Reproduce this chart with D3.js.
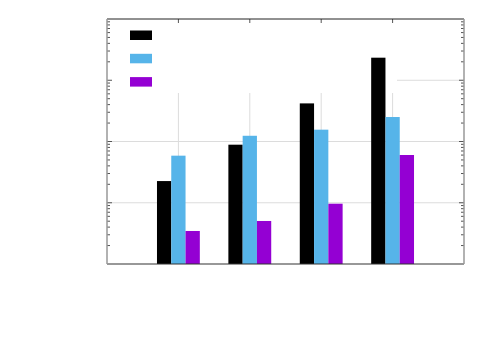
<!DOCTYPE html>
<html>
<head>
<meta charset="utf-8">
<script src="https://cdn.jsdelivr.net/npm/d3@7"></script>
<style>
  body { margin: 0; background: #fff; }
</style>
</head>
<body>
<div id="chart"></div>
<script>
// data (log scale, no labels shown)
const categories = [1, 2, 3, 4];
const seriesNames = ['', '', ''];
const seriesColors = ['#000000', '#56b4e9', '#9400d3'];
const series1 = [22.6, 88.7, 419, 2335];
const series2 = [58.7, 124, 156, 251];
const series3 = [3.46, 5.04, 9.65, 60.2];
const allSeries = [series1, series2, series3];

const margin = { top: 19, right: 36, bottom: 86, left: 107 };
const width = 500 - margin.left - margin.right;
const height = 350 - margin.top - margin.bottom;

const svg = d3.select('#chart')
  .append('svg')
  .attr('width', 500)
  .attr('height', 350)
  .append('g')
  .attr('transform', `translate(${margin.left}, ${margin.top})`);

const x = d3.scaleLinear().domain([0, 5]).range([0, width]);
const y = d3.scaleLog().domain([1, 10000]).range([height, 0]);
const barW = x(0.2) - x(0);

const majors = [10, 100, 1000];
const minors = [];
for (let d = 1; d < 10000; d *= 10) {
  for (let k = 2; k <= 9; k++) minors.push(d * k);
}

// grid
svg.append('g')
  .selectAll('line.h')
  .data(majors)
  .enter()
  .append('line')
  .attr('x1', 0).attr('x2', width)
  .attr('y1', d => y(d)).attr('y2', d => y(d))
  .attr('stroke', '#dcdcdc');
svg.append('g')
  .selectAll('line.v')
  .data(categories)
  .enter()
  .append('line')
  .attr('x1', d => x(d)).attr('x2', d => x(d))
  .attr('y1', 0).attr('y2', height)
  .attr('stroke', '#dcdcdc');

// legend background (covers grid)
const legendW = 290;
const legendH = 74;
svg.append('rect')
  .attr('x', 0).attr('y', 0)
  .attr('width', legendW).attr('height', legendH)
  .attr('fill', '#fff');

// bars
allSeries.forEach((vals, i) => {
  svg.append('g')
    .selectAll('rect')
    .data(vals)
    .enter()
    .append('rect')
    .attr('x', (d, j) => x(categories[j] + (i - 1) * 0.2) - barW / 2)
    .attr('y', d => y(d))
    .attr('width', barW)
    .attr('height', d => height - y(d))
    .attr('fill', seriesColors[i]);
});

// legend swatches
svg.append('g')
  .selectAll('rect')
  .data(seriesNames)
  .enter()
  .append('rect')
  .attr('x', 23)
  .attr('y', (d, i) => 11.5 + i * 23.3)
  .attr('width', 22)
  .attr('height', 9.5)
  .attr('fill', (d, i) => seriesColors[i]);

// ticks
const tickG = svg.append('g').attr('stroke', '#555').attr('stroke-width', 1);
minors.forEach(v => {
  tickG.append('line').attr('x1', 0).attr('x2', 3).attr('y1', y(v)).attr('y2', y(v));
  tickG.append('line').attr('x1', width).attr('x2', width - 3).attr('y1', y(v)).attr('y2', y(v));
});
majors.forEach(v => {
  tickG.append('line').attr('x1', 0).attr('x2', 5).attr('y1', y(v)).attr('y2', y(v));
  tickG.append('line').attr('x1', width).attr('x2', width - 5).attr('y1', y(v)).attr('y2', y(v));
});
categories.forEach(c => {
  tickG.append('line').attr('x1', x(c)).attr('x2', x(c)).attr('y1', 0).attr('y2', 4);
});

// border
svg.append('line').attr('x1', 0).attr('x2', width).attr('y1', 0).attr('y2', 0)
  .attr('stroke', '#222');
svg.append('line').attr('x1', 0).attr('x2', width).attr('y1', height).attr('y2', height)
  .attr('stroke', '#333').attr('stroke-width', 1.2);
svg.append('line').attr('x1', 0).attr('x2', 0).attr('y1', 0).attr('y2', height)
  .attr('stroke', '#999').attr('stroke-width', 1.5);
svg.append('line').attr('x1', width).attr('x2', width).attr('y1', 0).attr('y2', height)
  .attr('stroke', '#999').attr('stroke-width', 1.5);
</script>
</body>
</html>
